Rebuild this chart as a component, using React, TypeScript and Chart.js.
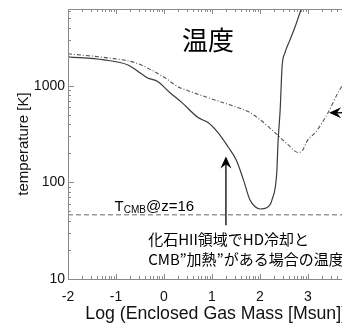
import React, { useEffect, useRef } from "react";
import { Chart, registerables } from "chart.js";

Chart.register(...registerables);

// Data (x = log10 enclosed gas mass [Msun], y = temperature [K])
const solidX = [-2.0, -1.25, -0.75, -0.56, -0.35, -0.125, 0.125, 0.375, 0.71, 0.917, 1.125, 1.33, 1.5, 1.65, 1.79, 1.9, 2.0, 2.15, 2.25, 2.35, 2.375, 2.42, 2.46, 2.52, 2.625, 2.73, 2.83, 2.9];
const solidY = [1990, 1850, 1640, 1430, 1210, 1100, 847, 668, 468, 416, 327, 235, 172, 108, 66, 56, 53, 55, 66, 128, 257, 562, 1570, 2190, 2980, 4050, 5660, 7000];
const dashDotX = [-2.0, -1.17, -0.6, -0.27, 0.02, 0.29, 0.5, 0.917, 1.48, 1.75, 2.0, 2.375, 2.6, 2.79, 2.88, 3.0, 3.15, 3.42, 3.625, 3.83, 3.875];
const dashDotY = [2140, 1940, 1730, 1460, 1210, 977, 888, 752, 607, 540, 446, 306, 241, 204, 213, 277, 327, 527, 847, 1210, 1270];
const tcmb = 46.3;
const xMin = -2;
const xMax = 3.875;
const yMin = 10;
const yMax = 6220;
const xTickLabels = ["-2", "-1", "0", "1", "2", "3"];
const yTickLabels = ["10", "100", "1000"];
const titleText = "温度";
const yTitle = "temperature [K]";
const xTitle = "Log (Enclosed Gas Mass [Msun])";
const noteLines = ["化石HII領域でHD冷却と", "CMB\u201d加熱\u201dがある場合の温度"];

const LATIN = "'Liberation Sans', Arial, Helvetica, sans-serif";
const CJK = "'Noto Sans CJK JP', 'Liberation Sans', sans-serif";

function arrow(ctx: CanvasRenderingContext2D, x0: number, y0: number, x1: number, y1: number) {
  const ang = Math.atan2(y1 - y0, x1 - x0);
  const len = 12;
  const w = 5.5;
  ctx.save();
  ctx.strokeStyle = "#000";
  ctx.fillStyle = "#000";
  ctx.lineWidth = 1.3;
  ctx.beginPath();
  ctx.moveTo(x0, y0);
  ctx.lineTo(x1 - Math.cos(ang) * 6, y1 - Math.sin(ang) * 6);
  ctx.stroke();
  ctx.translate(x1, y1);
  ctx.rotate(ang);
  ctx.beginPath();
  ctx.moveTo(0, 0);
  ctx.lineTo(-len, -w);
  ctx.lineTo(-len * 0.65, 0);
  ctx.lineTo(-len, w);
  ctx.closePath();
  ctx.fill();
  ctx.restore();
}

const decorPlugin = {
  id: "decor",
  afterDraw(chart: any) {
    const ctx: CanvasRenderingContext2D = chart.ctx;
    const xs = chart.scales.x;
    const ys = chart.scales.y;
    const a = chart.chartArea;
    const X = (v: number) => xs.getPixelForValue(v);
    const Y = (v: number) => ys.getPixelForValue(v);
    ctx.save();
    // axes frame (left, top, bottom)
    ctx.strokeStyle = "#8a8a8a";
    ctx.lineWidth = 1;
    ctx.beginPath();
    ctx.moveTo(a.right + 1, Math.round(a.top) + 0.5);
    ctx.lineTo(Math.round(a.left) + 0.5, Math.round(a.top) + 0.5);
    ctx.lineTo(Math.round(a.left) + 0.5, Math.round(a.bottom) + 0.5);
    ctx.lineTo(a.right + 1, Math.round(a.bottom) + 0.5);
    ctx.stroke();
    // x ticks (top and bottom), log-style minor ticks
    ctx.beginPath();
    for (let k = -2; k <= 3; k++) {
      for (let m = 1; m <= 9; m++) {
        const v = k + Math.log10(m);
        if (v > xMax) continue;
        const px = Math.round(X(v)) + 0.5;
        const L = m === 1 ? 5 : 3;
        ctx.moveTo(px, a.bottom);
        ctx.lineTo(px, a.bottom - L);
        ctx.moveTo(px, a.top);
        ctx.lineTo(px, a.top + L);
      }
    }
    // y ticks (left)
    for (let e = 1; e <= 3; e++) {
      for (let m = 1; m <= 9; m++) {
        const v = m * Math.pow(10, e);
        if (v > yMax) continue;
        const py = Math.round(Y(v)) + 0.5;
        const L = m === 1 ? 6 : 3;
        ctx.moveTo(a.left, py);
        ctx.lineTo(a.left + L, py);
      }
    }
    ctx.stroke();
    // tick labels
    ctx.fillStyle = "#111";
    ctx.font = `14px ${LATIN}`;
    ctx.textAlign = "center";
    ctx.textBaseline = "middle";
    xTickLabels.forEach((t) => {
      ctx.fillText(t, X(parseFloat(t)), a.bottom + 18);
    });
    ctx.textAlign = "right";
    yTickLabels.forEach((t) => {
      ctx.fillText(t, a.left - 3, Y(parseFloat(t)));
    });
    // x axis title: fit between x=15px and right edge - 3
    ctx.font = `16px ${LATIN}`;
    const w16 = ctx.measureText(xTitle).width;
    const targetW = 262;
    const fs = Math.min(18, (16 * targetW) / w16);
    ctx.font = `${fs.toFixed(2)}px ${LATIN}`;
    ctx.textAlign = "right";
    ctx.textBaseline = "middle";
    ctx.fillText(xTitle, a.right - 3, a.bottom + 35);
    // y axis title
    ctx.save();
    ctx.textAlign = "center";
    ctx.translate(16, (a.top + a.bottom) / 2);
    ctx.rotate(-Math.PI / 2);
    ctx.font = `15px ${LATIN}`;
    ctx.fillText(yTitle, 0, 0);
    ctx.restore();
    // title
    ctx.textAlign = "center";
    ctx.font = `26px ${CJK}`;
    ctx.fillStyle = "#000";
    ctx.fillText(titleText, X(0.917), Y(2980));
    // T_CMB label
    ctx.textAlign = "left";
    ctx.textBaseline = "alphabetic";
    let tx = X(-1.03);
    const ty = Y(50);
    ctx.font = `15px ${LATIN}`;
    ctx.fillText("T", tx, ty);
    tx += ctx.measureText("T").width;
    ctx.font = `10px ${LATIN}`;
    ctx.fillText("CMB", tx, ty + 2);
    tx += ctx.measureText("CMB").width;
    ctx.font = `15px ${LATIN}`;
    ctx.fillText("@z=16", tx, ty);
    // note text
    ctx.font = `15px ${CJK}`;
    ctx.textBaseline = "middle";
    ctx.fillText(noteLines[0], X(-0.33), Y(26));
    ctx.fillText(noteLines[1], X(-0.33), Y(16));
    // arrows
    arrow(ctx, X(1.29), Y(36), X(1.29), Y(185));
    arrow(ctx, X(xMax) + 2, Y(525), X(3.44), Y(525));
    ctx.restore();
  },
};

export default function App() {
  const ref = useRef<HTMLCanvasElement | null>(null);
  useEffect(() => {
    if (!ref.current) return;
    const chart = new Chart(ref.current, {
      type: "line",
      data: {
        datasets: [
          {
            label: "solid",
            data: solidX.map((x, i) => ({ x, y: solidY[i] })),
            borderColor: "#3a3a3a",
            borderWidth: 1.2,
            pointRadius: 0,
            cubicInterpolationMode: "monotone",
            fill: false,
          },
          {
            label: "dashdot",
            data: dashDotX.map((x, i) => ({ x, y: dashDotY[i] })),
            borderColor: "#555",
            borderWidth: 1.1,
            borderDash: [4, 2, 1, 2],
            pointRadius: 0,
            cubicInterpolationMode: "monotone",
            fill: false,
          },
          {
            label: "tcmb",
            data: [
              { x: xMin, y: tcmb },
              { x: xMax, y: tcmb },
            ],
            borderColor: "#9a9a9a",
            borderWidth: 1.5,
            borderDash: [5, 3],
            pointRadius: 0,
            fill: false,
          },
        ],
      },
      options: {
        responsive: false,
        animation: false,
        devicePixelRatio: 1,
        layout: { padding: { left: 60, top: 1, right: 0, bottom: 54 } },
        plugins: { legend: { display: false }, tooltip: { enabled: false } },
        scales: {
          x: { type: "linear", min: xMin, max: xMax, display: false },
          y: { type: "logarithmic", min: yMin, max: yMax, display: false },
        },
      },
      plugins: [decorPlugin],
    } as any);
    return () => chart.destroy();
  }, []);
  return <canvas ref={ref} width={342} height={325} style={{ display: "block" }} />;
}
